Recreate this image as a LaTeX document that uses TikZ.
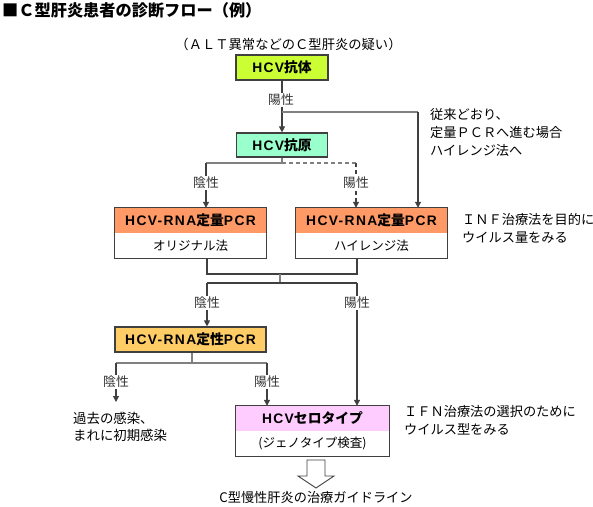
\documentclass[tikz,border=0pt]{standalone}
\usepackage{fontspec}
\setmainfont{Noto Sans CJK JP}
\newfontfamily\latf{Liberation Sans}[LetterSpace=10]
\newcommand\lt[1]{{\latf #1}}
\usetikzlibrary{arrows.meta}
\definecolor{cAb}{RGB}{204,255,51}
\definecolor{cAg}{RGB}{153,255,204}
\definecolor{cQn}{RGB}{255,153,102}
\definecolor{cQl}{RGB}{255,204,102}
\definecolor{cSt}{RGB}{255,204,255}
\definecolor{cLn}{RGB}{64,64,64}
\begin{document}
\begin{tikzpicture}[x=1pt,y=-1pt,
 hdr/.style={inner sep=0pt, font=\bfseries\fontsize{13.8}{14}\selectfont},
 boxfr/.style={draw=cLn, line width=1.2pt},
 low/.style={inner sep=0pt, font=\fontsize{12.5}{13}\selectfont},
 lab/.style={fill=white, inner sep=1pt, font=\fontsize{12.8}{13}\selectfont, text=black!80},
 conn/.style={draw=black!75, line width=1.1pt},
 gconn/.style={draw=black!50, line width=1.3pt},
 arr/.style={-{Triangle[width=6pt,length=6pt]}},
 note/.style={align=left, inner sep=0pt, font=\fontsize{13.2}{18}\selectfont}]
\useasboundingbox (0,0) rectangle (593,506);

% title and top text
\node[anchor=west, inner sep=0pt, font=\bfseries\fontsize{16.2}{16}\selectfont] (title) at (2,10) {■Ｃ型肝炎患者の診断フロー（例）};
\node[inner sep=0pt, font=\fontsize{13.3}{14}\selectfont] (sus) at (288.5,44) {（ＡＬＴ異常などのＣ型肝炎の疑い）};

% boxes
\node[hdr, boxfr, fill=cAb, minimum width=92, minimum height=25] (ab) at (282,67.5) {\lt{HCV}抗体};
\node[hdr, boxfr, fill=cAg, minimum width=91, minimum height=24] (ag) at (282,145) {\lt{HCV}抗原};

\node[hdr, fill=cQn, minimum width=151, minimum height=25] (q1h) at (190.5,220.5) {\lt{HCV-RNA}定量\lt{PCR}};
\node[low, minimum width=151, minimum height=25] (q1l) at (190.5,245.5) {オリジナル法};
\draw[boxfr] (q1h.north west) rectangle (q1l.south east);

\node[hdr, fill=cQn, minimum width=151, minimum height=25] (q2h) at (371.5,220.5) {\lt{HCV-RNA}定量\lt{PCR}};
\node[low, minimum width=151, minimum height=25] (q2l) at (371.5,245.5) {ハイレンジ法};
\draw[boxfr] (q2h.north west) rectangle (q2l.south east);

\node[hdr, boxfr, fill=cQl, minimum width=151, minimum height=25] (ql) at (190.5,339.5) {\lt{HCV-RNA}定性\lt{PCR}};

\node[hdr, fill=cSt, minimum width=153, minimum height=25] (sth) at (312.5,418.5) {\lt{HCV}セロタイプ};
\node[low, minimum width=153, minimum height=25] (stl) at (312.5,443.5) {(ジェノタイプ検査)};
\draw[boxfr] (sth.north west) rectangle (stl.south east);

% side notes
\node[note, anchor=north west] (n1) at (430,108) {従来どおり、\\定量ＰＣＲへ進む場合\\ハイレンジ法へ};
\node[note, anchor=north west] (n2) at (462,213) {ＩＮＦ治療法を目的に\\ウイルス量をみる};
\node[note, anchor=north west] (n3) at (404,405) {ＩＦＮ治療法の選択のために\\ウイルス型をみる};
\node[note, anchor=north west, font=\fontsize{13.4}{17}\selectfont] (past) at (73,412) {過去の感染、\\まれに初期感染};
\node[inner sep=0pt, font=\fontsize{13.2}{14}\selectfont] (guide) at (316,497) {C型慢性肝炎の治療ガイドライン};

% coordinates
\coordinate (j1) at (282,112);
\coordinate (c418) at (418,112);
\coordinate (b1) at (206,163);
\coordinate (b2) at (356,163);
\coordinate (m1) at (207,274);
\coordinate (m2) at (357,274);
\coordinate (mc) at (280,274);
\coordinate (d1) at (207,283);
\coordinate (d2) at (357,283);
\coordinate (e0) at (192,363);
\coordinate (e1) at (116,363);
\coordinate (e2) at (267,363);
\coordinate (pt) at (116,402);

% connectors
\draw[conn, arr] (ab.south) -- (ag.north);
\draw[gconn] (j1) -- (c418);
\draw[conn, arr] (c418) -- (c418 |- q2h.north);
\draw[gconn] (ag.south) -- (ag.south |- b1) -- (b1);
\draw[conn, arr] (b1) -- (b1 |- q1h.north);
\draw[gconn, dash pattern=on 4pt off 3pt] (ag.south |- b1) -- (b2);
\draw[conn, arr, dash pattern=on 4pt off 3pt] (b2) -- (b2 |- q2h.north);

\draw[conn] (m1 |- q1l.south) -- (m1) -- (m2) -- (m2 |- q2l.south);
\draw[gconn] (mc) -- (mc |- d1);
\draw[conn] (d1) -- (d2);
\draw[conn, arr] (d1) -- (d1 |- ql.north);
\draw[conn, arr] (d2) -- (d2 |- sth.north);

\draw[gconn] (e0 |- ql.south) -- (e0);
\draw[gconn] (e1) -- (e2);
\draw[conn, arr] (e1) -- (pt);
\draw[conn, arr] (e2) -- (e2 |- sth.north);

% labels
\node[lab] (l1) at (281,100) {陽性};
\node[lab] (l2) at (206,183) {陰性};
\node[lab] (l3) at (356,183) {陽性};
\node[lab] (l4) at (207,303) {陰性};
\node[lab] (l5) at (357,303) {陽性};
\node[lab] (l6) at (116,382) {陰性};
\node[lab] (l7) at (267,382) {陽性};

% hollow arrow
\coordinate (ha) at (316,460);
\draw[draw=black!75, fill=white, line width=0.9pt] (ha) ++(-9,0) -- ++(18,0) -- ++(0,16) -- ++(9,0) -- (316,488) -- ++(-18,-12) -- ++(9,0) -- cycle;
\end{tikzpicture}
\end{document}
